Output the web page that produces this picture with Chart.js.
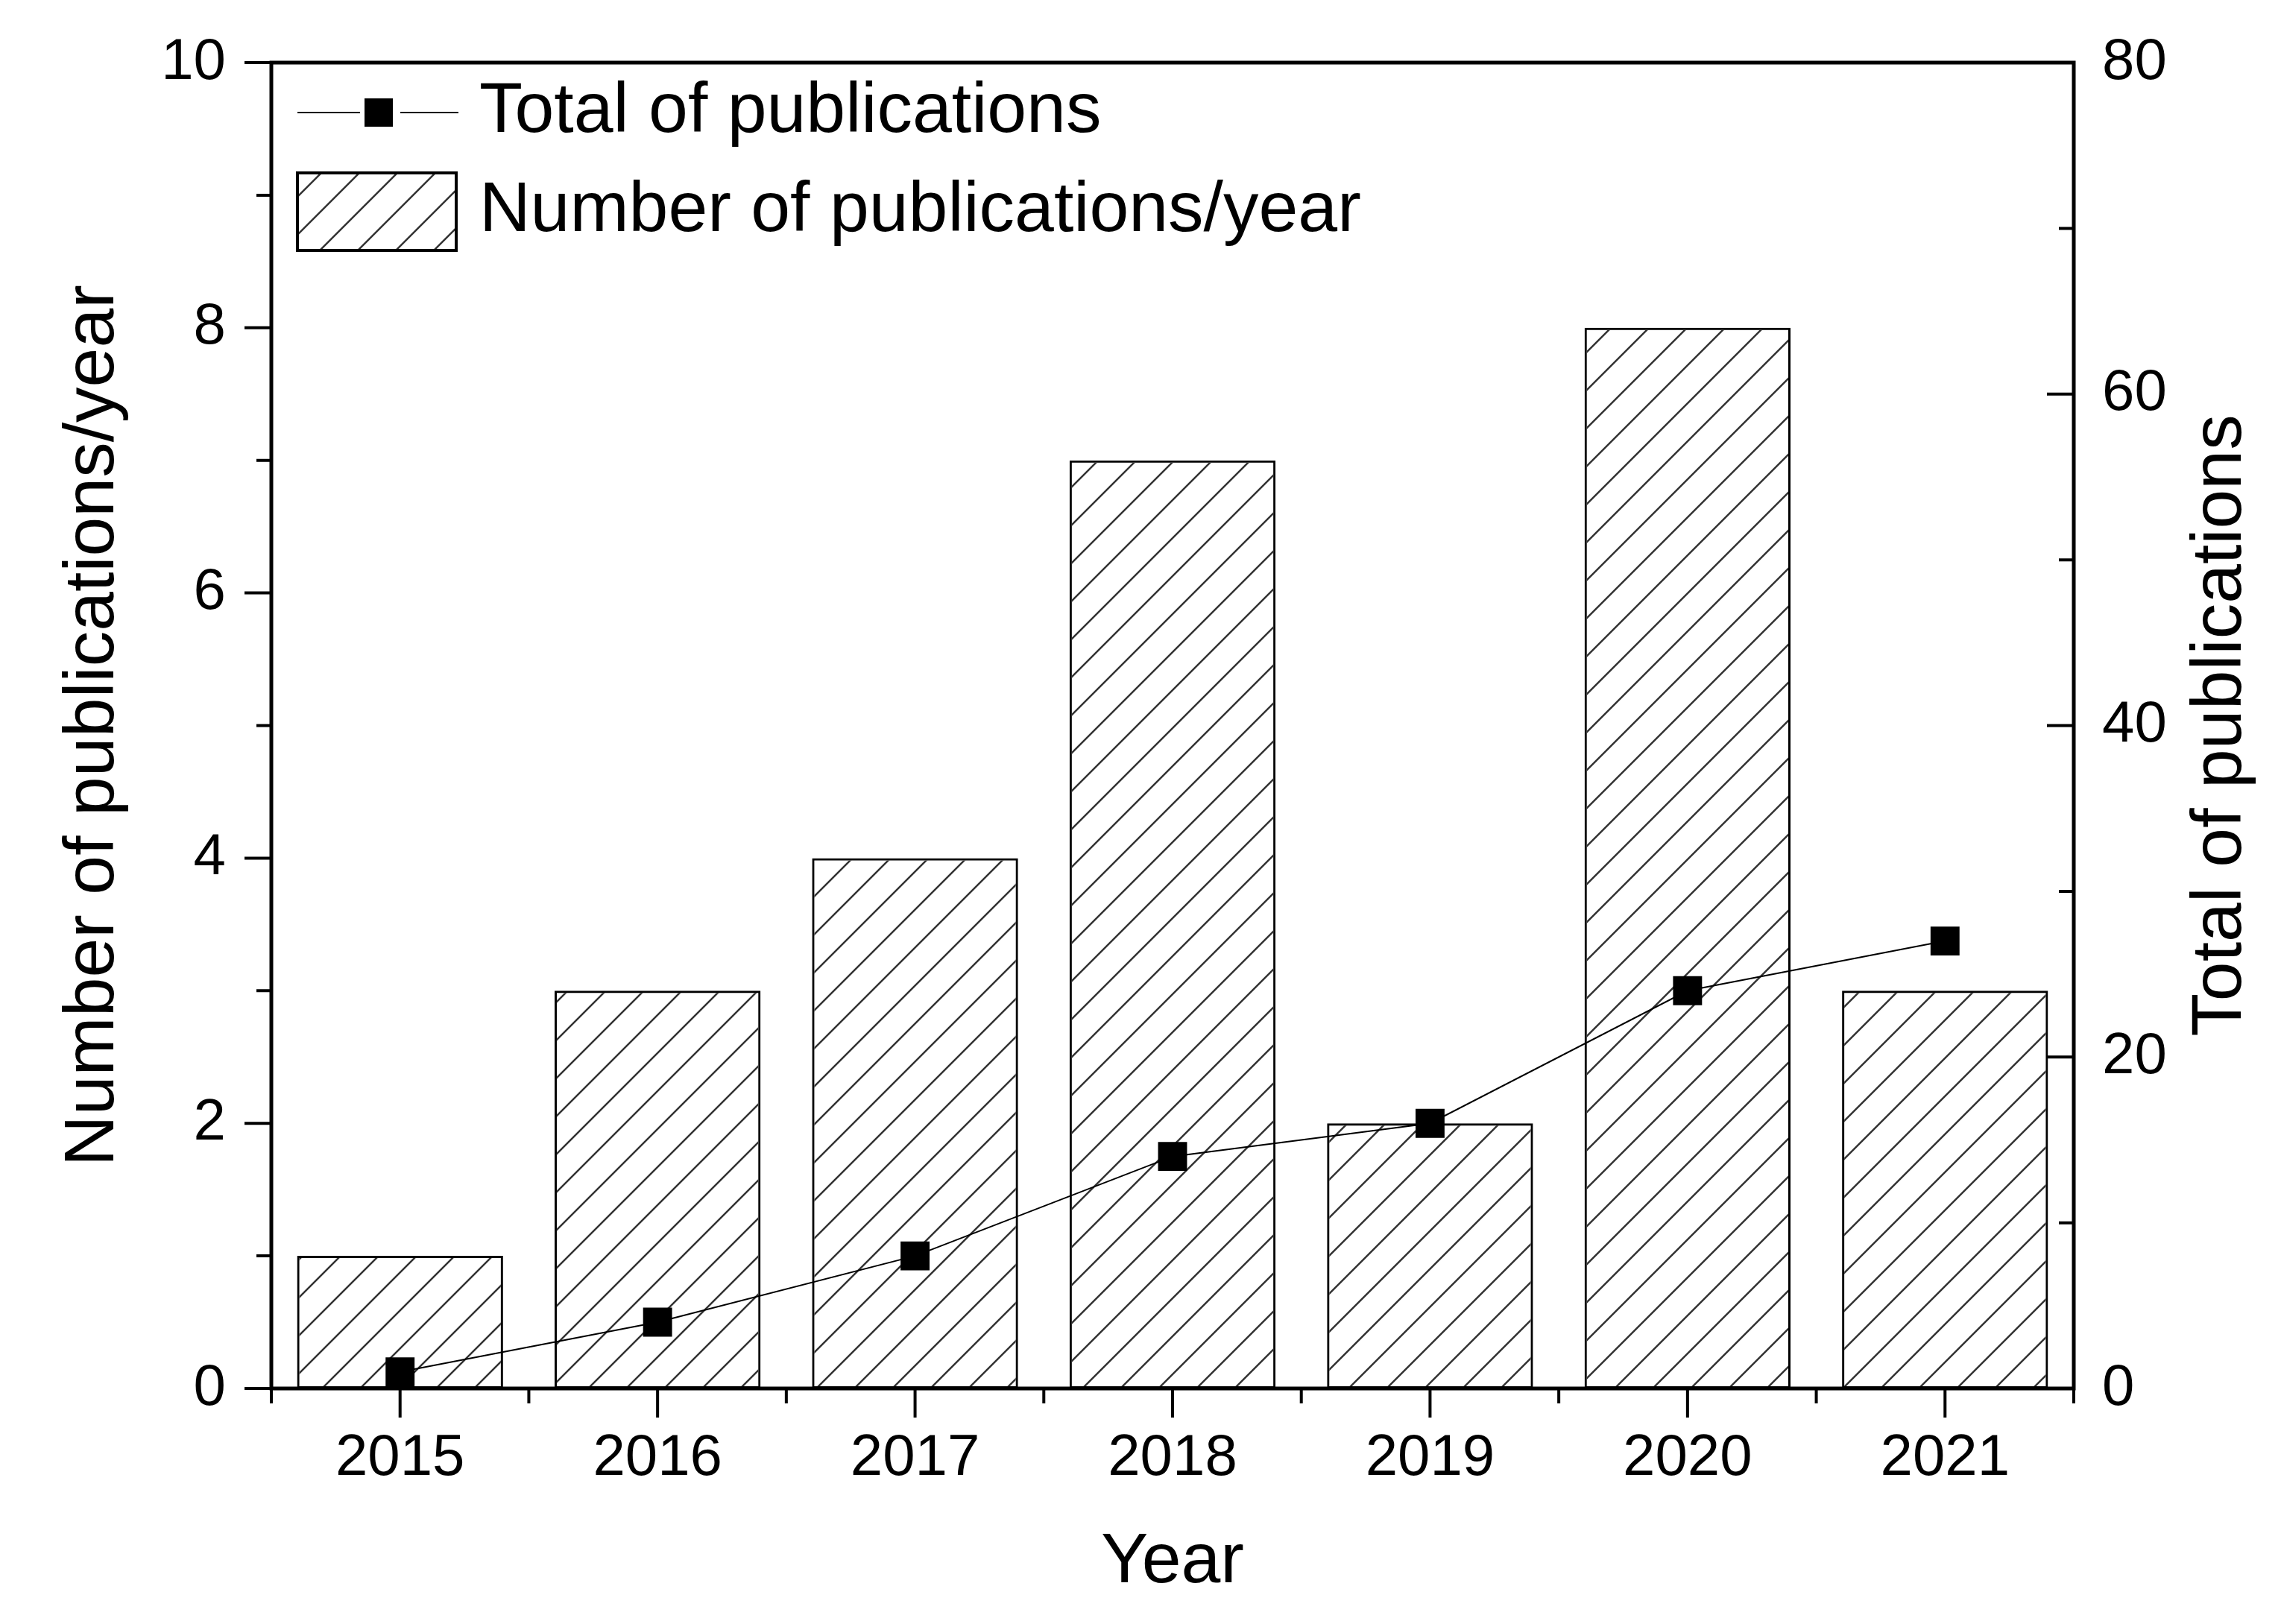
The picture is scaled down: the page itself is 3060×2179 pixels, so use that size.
<!DOCTYPE html>
<html>
<head>
<meta charset="utf-8">
<title>Publications per year</title>
<script src="https://cdn.jsdelivr.net/npm/chart.js@4/dist/chart.umd.min.js"></script>
<style>
  html, body { margin: 0; padding: 0; background: #fff; }
  #wrap { width: 3060px; height: 2179px; }
</style>
</head>
<body>
<div id="wrap"><canvas id="myChart"></canvas></div>
<script>
var years = ['2015', '2016', '2017', '2018', '2019', '2020', '2021']
var perYear = [1, 3, 4, 7, 2, 8, 3]
var totalPubs = [1, 4, 8, 14, 16, 24, 27]
var seriesNames = ['Total of publications', 'Number of publications/year']
var xTitle = 'Year'
var leftTitle = 'Number of publications/year'
var rightTitle = 'Total of publications'

var FONT = "'Liberation Sans', Arial, sans-serif"
Chart.defaults.font.family = FONT
Chart.defaults.color = '#000'

var canvas = document.getElementById('myChart')
var ctx = canvas.getContext('2d')

// diagonal "/" hatching used by the bars and the legend box
function makeHatch(step)
{
  var c = document.createElement('canvas')
  c.width = step
  c.height = step
  var g = c.getContext('2d')
  g.strokeStyle = '#333'
  g.lineWidth = 2.5
  g.beginPath()
  g.moveTo(-3, step + 3); g.lineTo(step + 3, -3)
  g.moveTo(-3, 3); g.lineTo(3, -3)
  g.moveTo(step - 3, step + 3); g.lineTo(step + 3, step - 3)
  g.stroke()
  return ctx.createPattern(c, 'repeat')
}
var hatch = makeHatch(51)

function midpoints(vals)
{
  var out = []
  for (var i = 0; i < vals.length - 1; i++) out.push((vals[i] + vals[i + 1]) / 2)
  return out
}

// keep the scale label overhang from pushing the plot area around
function noOverhang(s)
{
  s.paddingTop = 0
  s.paddingBottom = 0
  s.paddingLeft = 0
  s.paddingRight = 0
}

// frame round the plot, ticks (left/bottom outward, right inward)
var framePlugin = {
  id: 'framePlugin',
  afterDatasetsDraw: function (chart) {
    var c = chart.ctx, a = chart.chartArea
    var sx = chart.scales.x, sl = chart.scales.y, sr = chart.scales.y1
    c.save()
    c.strokeStyle = '#000'
    c.lineWidth = 4
    c.beginPath()
    var lMaj = sl.ticks.map(function (t) { return t.value })
    lMaj.forEach(function (v) { var p = sl.getPixelForValue(v); c.moveTo(a.left, p); c.lineTo(a.left - 36, p) })
    midpoints(lMaj).forEach(function (v) { var p = sl.getPixelForValue(v); c.moveTo(a.left, p); c.lineTo(a.left - 20, p) })
    var rMaj = sr.ticks.map(function (t) { return t.value })
    rMaj.forEach(function (v) { var p = sr.getPixelForValue(v); c.moveTo(a.right, p); c.lineTo(a.right - 36, p) })
    midpoints(rMaj).forEach(function (v) { var p = sr.getPixelForValue(v); c.moveTo(a.right, p); c.lineTo(a.right - 20, p) })
    for (var i = 0; i < years.length; i++) {
      var px = sx.getPixelForValue(i)
      c.moveTo(px, a.bottom); c.lineTo(px, a.bottom + 39)
    }
    for (var j = 0; j <= years.length; j++) {
      var ex = sx.getPixelForValue(j - 0.5)
      c.moveTo(ex, a.bottom); c.lineTo(ex, a.bottom + 20)
    }
    c.stroke()
    c.lineWidth = 5
    c.strokeRect(a.left, a.top, a.right - a.left, a.bottom - a.top)
    c.restore()
  }
}

// legend inside the plot + right axis title (reads bottom to top)
var legendPlugin = {
  id: 'legendPlugin',
  afterDraw: function (chart) {
    var c = chart.ctx, a = chart.chartArea
    var x0 = a.left + 35, x1 = a.left + 251
    var y1 = a.top + 67, y2 = a.top + 200
    c.save()
    c.strokeStyle = '#000'
    c.fillStyle = '#000'
    c.lineWidth = 2
    c.beginPath()
    c.moveTo(x0, y1); c.lineTo(x0 + 84, y1)
    c.moveTo(x0 + 138, y1); c.lineTo(x1, y1)
    c.stroke()
    c.fillRect(x0 + 90, y1 - 19, 38, 38)
    c.fillStyle = hatch
    c.fillRect(x0, y2 - 52, 213, 104)
    c.lineWidth = 4
    c.strokeRect(x0, y2 - 52, 213, 104)
    c.fillStyle = '#000'
    c.font = '95px ' + FONT
    c.textAlign = 'left'
    c.textBaseline = 'middle'
    c.fillText(seriesNames[0], a.left + 279, y1)
    c.fillText(seriesNames[1], a.left + 279, y2)
    var s = chart.scales.y1
    c.translate(s.right - 80, (s.top + s.bottom) / 2)
    c.rotate(-Math.PI / 2)
    c.textAlign = 'center'
    c.fillText(rightTitle, 0, 0)
    c.restore()
  }
}

var chart = new Chart(ctx, {
  data: {
    labels: years,
    datasets: [{
      type: 'line',
      label: seriesNames[0],
      data: totalPubs,
      yAxisID: 'y1',
      order: 0,
      borderColor: '#000',
      borderWidth: 2,
      tension: 0,
      pointStyle: 'rect',
      pointRadius: 27.5,
      pointBackgroundColor: '#000',
      pointBorderWidth: 0
    }, {
      type: 'bar',
      label: seriesNames[1],
      data: perYear,
      yAxisID: 'y',
      order: 1,
      backgroundColor: hatch,
      borderColor: '#000',
      borderWidth: 3,
      borderSkipped: false,
      barPercentage: 0.8,
      categoryPercentage: 1
    }]
  },
  options: {
    responsive: true,
    maintainAspectRatio: false,
    animation: false,
    devicePixelRatio: 1,
    events: [],
    layout: { padding: { top: 84, left: 0, right: 0, bottom: 0 } },
    plugins: { legend: { display: false }, tooltip: { enabled: false } },
    scales: {
      x: {
        type: 'category',
        offset: true,
        grid: { display: false, drawTicks: false },
        border: { display: false },
        ticks: { font: { size: 78 }, padding: 48, maxRotation: 0 },
        title: { display: true, text: xTitle, font: { size: 95 }, padding: { top: 0, bottom: 25 } },
        afterFit: function (s) { s.height = 316; noOverhang(s) }
      },
      y: {
        position: 'left',
        min: 0,
        max: 10,
        grid: { display: false, drawTicks: false },
        border: { display: false },
        ticks: { stepSize: 2, font: { size: 78 }, padding: 61 },
        title: { display: true, text: leftTitle, font: { size: 95 }, padding: { top: 69, bottom: 0 } },
        afterFit: function (s) { s.width = 364; noOverhang(s) }
      },
      y1: {
        position: 'right',
        min: 0,
        max: 80,
        grid: { display: false, drawTicks: false },
        border: { display: false },
        ticks: { stepSize: 20, font: { size: 78 }, padding: 38 },
        afterFit: function (s) { s.width = 278; noOverhang(s) }
      }
    }
  },
  plugins: [framePlugin, legendPlugin]
})
</script>
</body>
</html>
